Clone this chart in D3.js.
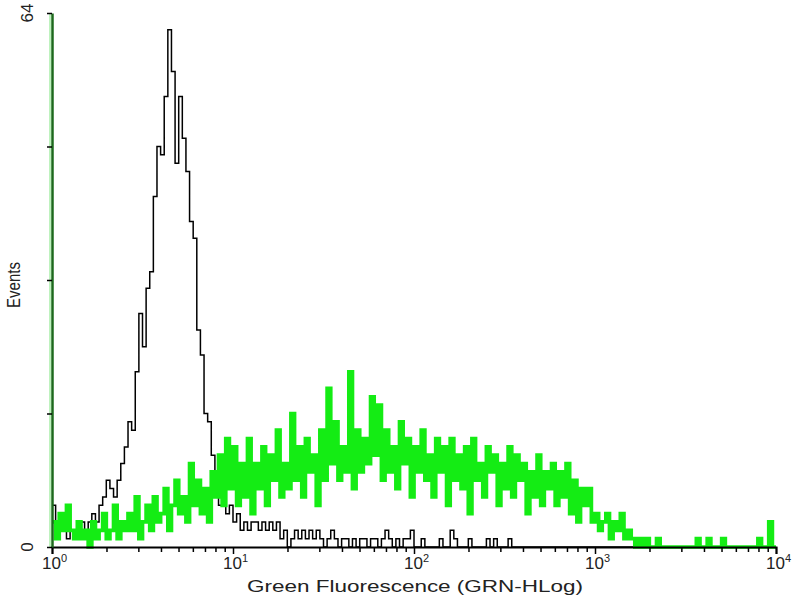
<!DOCTYPE html>
<html>
<head>
<meta charset="utf-8">
<script src="https://cdn.jsdelivr.net/npm/d3@7"></script>
<style>
  html, body { margin: 0; padding: 0; background: #fff; }
  svg { display: block; font-family: "Liberation Sans", Arial, sans-serif; }
</style>
</head>
<body>
<svg id="chart" width="800" height="600"></svg>
<script>
// ---- Data ----
const xDomain = [1, 10000];          // Green fluorescence, log scale
const yDomain = [0, 64];             // Events
const decadeTicks = [1, 10, 100, 1000, 10000];
const decadeExponents = ["0", "1", "2", "3", "4"];
const yTickValues = [0, 16, 32, 48, 64];
const yTickLabels = ["0", "64"];
const xTitle = "Green Fluorescence (GRN-HLog)";
const yTitle = "Events";
const binCount = 200;

// Control sample (black histogram), one count per channel
const controlCounts = [
  5,2,3,2,1,2,1,2,3,2,
  3,4,3,5,6,8,7,6,8,10,
  12,15,14,21,28,24,31,33,42,48,
  47,54,62,57,46,54,49,45,39,37,
  26,23,16,15,11,9,5,6,4,5,
  3,4,2,3,2,3,3,2,3,2,
  3,2,3,1,2,0,1,2,1,2,
  1,2,1,2,1,0,1,2,1,0,
  1,1,0,1,0,1,1,0,1,1,
  0,1,2,1,0,1,0,1,1,2,
  0,0,1,0,0,0,0,1,0,0,
  2,1,0,0,0,1,0,0,0,0,
  1,0,1,0,0,0,1,0,0,0,
  0,0,0,0,0,0,0,0,0,0,
  0,0,0,0,0,0,0,0,0,0,
  0,0,0,0,0,0,0,0,0,0,
  0,0,0,0,0,0,0,0,0,0,
  0,0,0,0,0,0,0,0,0,0,
  0,0,0,0,0,0,0,0,0,0,
  0,0,0,0,0,0,0,0,0,0
];

// Stained sample (green histogram)
const stainedCounts = [
  3,1,4,2,5,2,1,3,1,2,
  0,3,1,2,4,1,2,5,1,3,
  2,4,2,6,1,3,5,2,6,3,
  4,7,2,5,8,4,6,3,10,5,
  8,4,7,3,9,6,11,5,13,7,
  12,5,10,6,13,4,10,7,12,5,
  11,8,14,6,10,7,16,8,12,6,
  13,9,11,5,14,8,19,10,15,8,
  12,9,21,7,14,9,13,10,18,11,
  17,8,14,9,12,7,15,10,13,6,
  12,9,14,8,11,6,13,9,12,5,
  13,8,11,7,12,4,13,8,10,6,
  12,9,11,5,10,7,12,6,11,8,
  10,4,9,6,11,5,9,7,10,5,
  9,6,10,4,8,3,7,5,7,3,
  4,2,3,4,1,3,2,4,1,2,
  1,0,1,0,1,0,0,1,0,0,
  0,0,0,0,0,0,0,0,1,0,
  0,1,0,0,0,1,0,0,0,0,
  0,0,0,0,0,1,0,0,3,0
];

// ---- Layout ----
const svg = d3.select("#chart");
const plotLeft = 52, plotRight = 776, plotTop = 13, plotBottom = 547;

const x = d3.scaleLog().domain(xDomain).range([plotLeft, plotRight]);
const y = d3.scaleLinear().domain(yDomain).range([plotBottom, plotTop]);

// bin lower edges on the log axis (channel index -> fluorescence)
const logSpan = Math.log10(xDomain[1]) - Math.log10(xDomain[0]);
const edge = i => Math.pow(10, Math.log10(xDomain[0]) + logSpan * i / binCount);

function stepPoints(counts) {
  const pts = counts.map((c, i) => [edge(i), c]);
  pts.push([edge(counts.length), counts[counts.length - 1]]);
  return pts;
}
const line = d3.line()
  .x(d => x(d[0]))
  .y(d => y(d[1]))
  .curve(d3.curveStepAfter);

svg.append("path")
  .datum(stepPoints(controlCounts))
  .attr("d", line)
  .attr("fill", "none")
  .attr("stroke", "#000")
  .attr("stroke-width", 1.5)
  .attr("stroke-linejoin", "miter");

svg.append("path")
  .datum(stepPoints(stainedCounts))
  .attr("d", line)
  .attr("fill", "none")
  .attr("stroke", "#14ec14")
  .attr("stroke-width", 3.7)
  .attr("stroke-linejoin", "miter");

// ---- X axis ----
const minorTicks = [];
for (let d = 0; d < 4; d++) for (let m = 2; m <= 9; m++) minorTicks.push(m * Math.pow(10, d));

const xAxisG = svg.append("g").attr("transform", `translate(0,${plotBottom})`);
xAxisG.call(d3.axisBottom(x).tickValues(minorTicks).tickSize(5).tickFormat(""));
xAxisG.call(g => g.selectAll(".domain").remove());
const xMajor = svg.append("g").attr("transform", `translate(0,${plotBottom})`)
  .call(d3.axisBottom(x).tickValues(decadeTicks).tickSize(7).tickFormat(""));
xMajor.select(".domain").attr("stroke-width", 2);
svg.selectAll(".tick line").attr("stroke", "#000").attr("stroke-width", 1.5);

// decade labels with superscripts
decadeTicks.forEach((v, i) => {
  const t = svg.append("text")
    .attr("x", x(v) - 10)
    .attr("y", 569)
    .attr("font-size", 17)
    .attr("fill", "#222");
  t.append("tspan").text("10");
  t.append("tspan").attr("dy", -7).attr("font-size", 11).text(decadeExponents[i]);
});

svg.append("text")
  .attr("x", 247)
  .attr("y", 592)
  .attr("font-size", 17)
  .attr("fill", "#222")
  .attr("textLength", 336)
  .attr("lengthAdjust", "spacingAndGlyphs")
  .text(xTitle);

// ---- Y axis ----
svg.append("line")
  .attr("x1", plotLeft - 2).attr("x2", plotLeft - 2)
  .attr("y1", plotTop).attr("y2", plotBottom)
  .attr("stroke", "#a8eea8").attr("stroke-width", 1.5);
const yAxisG = svg.append("g").attr("transform", `translate(${plotLeft},0)`)
  .call(d3.axisLeft(y).tickValues(yTickValues).tickSize(5).tickSizeOuter(0).tickFormat(""));
yAxisG.select(".domain").attr("stroke", "#1c6a1c").attr("stroke-width", 2.5);
yAxisG.selectAll(".tick line").attr("stroke", "#000").attr("stroke-width", 1.5);

[[yDomain[0], yTickLabels[0]], [yDomain[1], yTickLabels[1]]].forEach(([v, lab]) => {
  svg.append("text")
    .attr("transform", `translate(33,${y(v)}) rotate(-90)`)
    .attr("text-anchor", "middle")
    .attr("font-size", 17)
    .attr("fill", "#222")
    .text(lab);
});

svg.append("text")
  .attr("transform", "translate(20,285) scale(1.2,1) rotate(-90)")
  .attr("text-anchor", "middle")
  .attr("font-size", 15)
  .attr("fill", "#222")
  .text(yTitle);
</script>
</body>
</html>
